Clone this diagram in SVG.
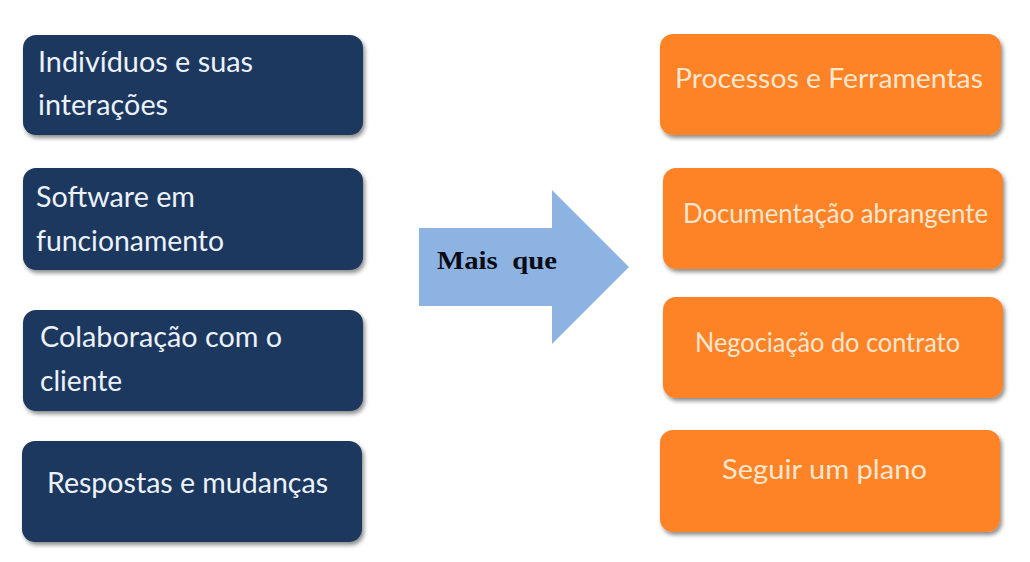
<svg xmlns="http://www.w3.org/2000/svg" width="1030" height="562" viewBox="0 0 1030 562">
<defs>
<filter id="sh" x="-10%" y="-10%" width="125%" height="135%">
<feDropShadow dx="2" dy="3" stdDeviation="2.2" flood-color="#000" flood-opacity="0.45"/>
</filter>
<style>
.nb{fill:#1B375F;filter:url(#sh)}
.ob{fill:#FD8328;filter:url(#sh)}
.lt{font-family:Lato,"Open Sans",sans-serif;font-size:29px;fill:#EDF2FA}
.rt{font-family:Lato,"Open Sans",sans-serif;font-size:26px;fill:#FDE6CF}
.at{font-family:"Liberation Serif",serif;font-weight:bold;font-size:26px;fill:#0B0B14}
</style>
</defs>
<rect width="1030" height="562" fill="#FFFFFF"/>
<g id="connectors">
<polygon points="419,228 552,228 552,190 629,267 552,344 552,306 419,306" fill="#8DB3E2"/>
<text class="at" x="437" y="269" textLength="120" lengthAdjust="spacingAndGlyphs" xml:space="preserve">Mais  que</text>
</g>
<g id="n1">
<rect class="nb" x="23" y="35" width="340" height="100" rx="13"/>
<text class="lt" x="38" y="72" textLength="215" lengthAdjust="spacingAndGlyphs">Indivíduos e suas</text>
<text class="lt" x="38" y="115" textLength="130" lengthAdjust="spacingAndGlyphs">interações</text>
</g>
<g id="n2">
<rect class="nb" x="23" y="168" width="340" height="102" rx="13"/>
<text class="lt" x="36" y="207" textLength="159" lengthAdjust="spacingAndGlyphs">Software em</text>
<text class="lt" x="36" y="251" textLength="188" lengthAdjust="spacingAndGlyphs">funcionamento</text>
</g>
<g id="n3">
<rect class="nb" x="23" y="310" width="340" height="101" rx="13"/>
<text class="lt" x="40" y="347" textLength="242" lengthAdjust="spacingAndGlyphs">Colaboração com o</text>
<text class="lt" x="40" y="391" textLength="82" lengthAdjust="spacingAndGlyphs">cliente</text>
</g>
<g id="n4">
<rect class="nb" x="22" y="441" width="340" height="101" rx="13"/>
<text class="lt" x="47" y="493" textLength="281" lengthAdjust="spacingAndGlyphs">Respostas e mudanças</text>
</g>
<g id="r1">
<rect class="ob" x="660" y="34" width="341" height="101" rx="13"/>
<text class="rt" x="675" y="88" textLength="308" lengthAdjust="spacingAndGlyphs">Processos e Ferramentas</text>
</g>
<g id="r2">
<rect class="ob" x="663" y="168" width="340" height="101" rx="13"/>
<text class="rt" x="683" y="223" font-size="23" textLength="305" lengthAdjust="spacingAndGlyphs">Documentação abrangente</text>
</g>
<g id="r3">
<rect class="ob" x="663" y="297" width="340" height="101" rx="13"/>
<text class="rt" x="695" y="352" font-size="24" textLength="265" lengthAdjust="spacingAndGlyphs">Negociação do contrato</text>
</g>
<g id="r4">
<rect class="ob" x="660" y="430" width="340" height="102" rx="13"/>
<text class="rt" x="722" y="479" textLength="205" lengthAdjust="spacingAndGlyphs">Seguir um plano</text>
</g>
</svg>
